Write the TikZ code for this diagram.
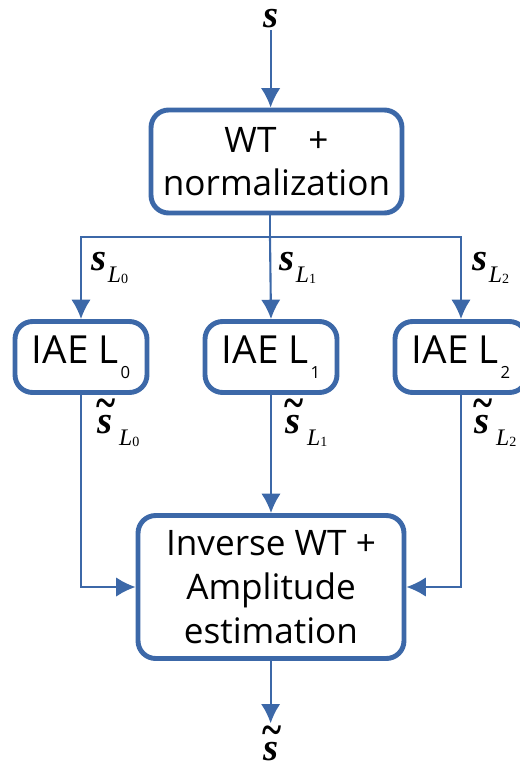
\documentclass[tikz,border=0pt]{standalone}
\usepackage{fontspec}
\usepackage{graphicx}
\setmainfont{Liberation Serif}
\newfontfamily\boxfont{Open Sans}
\usetikzlibrary{arrows.meta}

\definecolor{wtblue}{RGB}{60,104,168}

% signal labels
\newcommand{\sbf}{\textbf{\textit{s}}}
\newcommand{\tsbf}{\makebox[0pt][l]{\makebox[10pt]{\raisebox{8.5pt}{\scalebox{0.95}[1.2]{\textbf{\char"007E}}}}}\sbf}
\newcommand{\subL}[1]{\raisebox{-7pt}{\fontsize{13.5}{13.5}\selectfont\textit{L}\raisebox{-0.5pt}{\fontsize{8}{8}\selectfont #1}}}
\newcommand{\sL}[1]{\fontsize{22}{22}\selectfont\sbf\hspace{1pt}\subL{#1}}
\newcommand{\tsL}[1]{\fontsize{22}{22}\selectfont\tsbf\hspace{4pt}\subL{#1}}
\newcommand{\iae}[1]{IAE L\raisebox{-8.5pt}{\fontsize{9.5}{9.5}\selectfont\hspace{1pt}#1}}

\tikzset{
  block/.style={draw=wtblue, line width=2.8pt, rounded corners=10pt, fill=white,
    align=center, font=\boxfont, inner sep=0pt},
  levelbox/.style={block, minimum width=2.64cm, minimum height=1.42cm,
    font=\boxfont\fontsize{22}{22}\selectfont},
  flow/.style={draw=wtblue, line width=1.2pt, -{Latex[length=11pt,width=11pt]}},
  link/.style={draw=wtblue, line width=1.2pt},
  sig/.style={inner sep=1pt, anchor=base west}
}

\begin{document}
\begin{tikzpicture}[x=0.02cm, y=-0.02cm]

\useasboundingbox (0, 0) rectangle (520, 767);

% input and wavelet transform
\node[sig] (sin) at (261, 28) {\fontsize{22}{22}\selectfont\sbf};
\node[block, minimum width=5.02cm, minimum height=2.06cm,
  font=\boxfont\fontsize{20}{24.5}\selectfont] (wt) at (276.5, 161.5)
  {WT\hspace{13pt} +\\normalization};

% the three levels
\node[levelbox] (iae0) at (81, 357) {\iae{0}};
\node[levelbox] (iae1) at (271, 357) {\iae{1}};
\node[levelbox] (iae2) at (461, 357) {\iae{2}};

% reconstruction
\node[block, minimum width=5.32cm, minimum height=2.86cm,
  font=\boxfont\fontsize{20}{25}\selectfont] (inv) at (271, 587)
  {Inverse WT +\\Amplitude\\estimation};
\node[sig] (sout) at (261, 760) {\fontsize{22}{22}\selectfont\tsbf};

% connectors
\coordinate (split) at (270, 237);
\draw[flow] (sin) -- (sin |- wt.north);
\draw[link] (wt.south -| split) -- (split);
\draw[flow] (split) -| (iae0.north);
\draw[flow] (split) -| (iae2.north);
\draw[flow] (split) -- (iae1.north);
\draw[flow] (iae0.south) |- (inv.west);
\draw[flow] (iae2.south) |- (inv.east);
\draw[flow] (iae1.south) -- (iae1.south |- inv.north);
\draw[flow] (inv.south -| sout) -- (sout.north);

% signal labels
\node[sig] (s0) at (89, 270) {\sL{0}};
\node[sig] (s1) at (277, 270) {\sL{1}};
\node[sig] (s2) at (470, 270) {\sL{2}};
\node[sig] (t0) at (95, 433) {\tsL{0}};
\node[sig] (t1) at (283, 433) {\tsL{1}};
\node[sig] (t2) at (472, 433) {\tsL{2}};

\end{tikzpicture}
\end{document}
